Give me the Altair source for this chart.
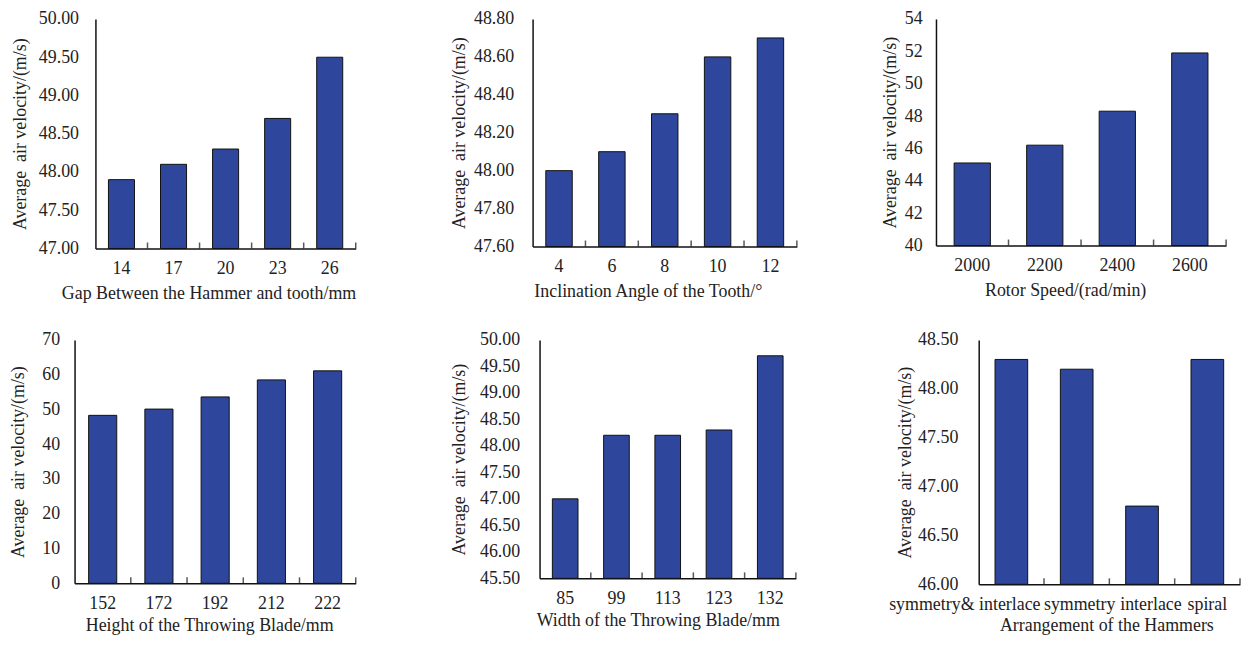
import altair as alt
import pandas as pd

FONT = "Liberation Serif"
BAR = "#2E479C"

# Panel data
gap_cats = ["14", "17", "20", "23", "26"]
gap_vals = [47.9, 48.1, 48.3, 48.7, 49.5]

angle_cats = ["4", "6", "8", "10", "12"]
angle_vals = [48.0, 48.1, 48.3, 48.6, 48.7]

speed_cats = ["2000", "2200", "2400", "2600"]
speed_vals = [45.1, 46.2, 48.3, 51.9]

height_cats = ["152", "172", "192", "212", "222"]
height_vals = [48.3, 50.1, 53.6, 58.5, 61.1]

width_cats = ["85", "99", "113", "123", "132"]
width_vals = [47.0, 48.2, 48.2, 48.3, 49.7]

arr_cats = ["symmetry& interlace", "symmetry", "interlace", "spiral"]
arr_vals = [48.3, 48.2, 46.8, 48.3]

Y_TITLE = "Average\u00a0 air velocity/(m/s)"


def panel(cats, vals, xtitle, ymin, ymax, ystep, fmt, w, h, lpad, tpad,
          xlpad=11, xtpad=7, title_shift=0, title_end=False,
          label_offset=None, label_align=None, inset=0, right_gap=0):
    df = pd.DataFrame({"cat": cats, "val": vals})
    ticks = []
    v = ymin
    while v <= ymax + 1e-9:
        ticks.append(round(v, 4))
        v += ystep
    xaxis_kw = dict(
        title=xtitle,
        labelAngle=0,
        ticks=False,
        labelPadding=xlpad,
        titlePadding=xtpad,
        labelFont=FONT,
        titleFont=FONT,
        labelFontSize=18,
        titleFontSize=18,
        titleFontWeight="normal",
        labelColor="#222",
        titleColor="#222",
        domainColor="#111",
        domainWidth=1.5,
        labelOverlap=False,
        labelLimit=300,
    )
    if title_end:
        xaxis_kw["titleAnchor"] = "end"
        xaxis_kw["titleAlign"] = "right"
    elif title_shift:
        xaxis_kw["titleX"] = (w - inset) / 2 + title_shift
    if label_offset is not None:
        xaxis_kw["labelOffset"] = {"expr": label_offset}
    if label_align is not None:
        xaxis_kw["labelAlign"] = {"expr": label_align}
    xscale = dict(paddingInner=0, paddingOuter=0)
    if inset:
        xscale["range"] = [-inset, w]
    xenc = alt.X(
        "cat:N",
        sort=cats,
        scale=alt.Scale(**xscale),
        axis=alt.Axis(**xaxis_kw),
    )
    yaxis_kw = dict(
        title=Y_TITLE,
        values=ticks,
        format=fmt,
        ticks=False,
        grid=False,
        labelPadding=lpad,
        titlePadding=tpad,
        labelOverlap=False,
        labelFlush=False,
        labelFont=FONT,
        titleFont=FONT,
        labelFontSize=18,
        titleFontSize=18,
        titleFontWeight="normal",
        labelColor="#222",
        titleColor="#222",
        domainColor="#111",
        domainWidth=1.5,
    )
    if inset:
        yaxis_kw["offset"] = inset
    yenc = alt.Y(
        "val:Q",
        scale=alt.Scale(domain=[ymin, ymax], nice=False, zero=False, clamp=True),
        axis=alt.Axis(**yaxis_kw),
    )
    bars = alt.Chart(df).mark_bar(
        width={"band": 0.5}, color=BAR, stroke="#111", strokeWidth=1
    ).encode(x=xenc, y=yenc, y2=alt.datum(ymin))
    tks = alt.Chart(df).mark_tick(
        orient="vertical", size=6, thickness=1.5, color="#111", yOffset=-3
    ).encode(
        x=alt.X("cat:N", sort=cats, bandPosition=1),
        y=alt.value(h),
    )
    layers = [bars, tks]
    if right_gap:
        # invisible layout spacer that widens the panel's bounds on the right
        layers.append(
            alt.Chart(pd.DataFrame({"s": [0]})).mark_text(
                text="", opacity=0
            ).encode(x=alt.value(w + right_gap), y=alt.value(h))
        )
    return alt.layer(*layers).properties(width=w, height=h)


p1 = panel(gap_cats, gap_vals, "Gap Between the Hammer and tooth/mm",
           47.0, 50.0, 0.5, ".2f", 262, 231, 17, 9, title_end=True)
p2 = panel(angle_cats, angle_vals, "Inclination Angle of the Tooth/°",
           47.6, 48.8, 0.2, ".2f", 266, 229, 19, 5, title_shift=-17,
           right_gap=11)
p3 = panel(speed_cats, speed_vals, "Rotor Speed/(rad/min)",
           40, 54, 2, "d", 292, 228, 14, 5, title_shift=-16)
p4 = panel(height_cats, height_vals, "Height of the Throwing Blade/mm",
           0, 70, 10, "d", 262, 245, 15, 14, xlpad=11, xtpad=4,
           title_shift=-6, inset=21)
p5 = panel(width_cats, width_vals, "Width of the Throwing Blade/mm",
           45.5, 50.0, 0.5, ".2f", 258, 240, 20, 11, xlpad=11, xtpad=4,
           title_shift=-10)
p6 = panel(arr_cats, arr_vals, "Arrangement of the Hammers",
           46.0, 48.5, 0.5, ".2f", 263, 246, 21, 3, xlpad=11, xtpad=4,
           title_shift=-3,
           label_offset="datum.value == 'symmetry& interlace' ? -123 : "
                        "(datum.value == 'symmetry' ? 3 : "
                        "(datum.value == 'interlace' ? 9 : 0))",
           label_align="datum.value == 'symmetry& interlace' ? 'left' : "
                       "'center'")

chart = alt.concat(
    p1, p2, p3, p4, p5, p6, columns=3, align="none",
    spacing={"row": 29, "column": 74},
).properties(
    padding={"left": 2, "top": 0, "right": 0, "bottom": 0},
    background="white",
).configure_view(stroke=None)

chart.save("out.html", embed_options={"renderer": "svg", "actions": False})
